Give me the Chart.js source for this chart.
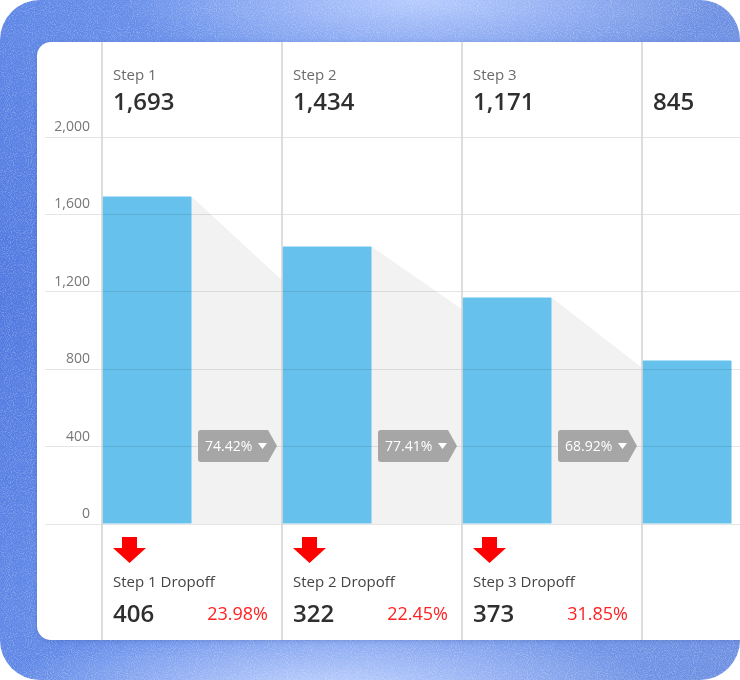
<!DOCTYPE html>
<html><head><meta charset="utf-8">
<script src="https://cdn.jsdelivr.net/npm/chart.js@4.4.1/dist/chart.umd.min.js"></script>
<style>
html,body{margin:0;padding:0;width:740px;height:680px;overflow:hidden;background:#fff;}
#bg{position:absolute;left:0;top:0;width:740px;height:680px;border-radius:40px;overflow:hidden;
background:
 radial-gradient(ellipse 300px 70px at 420px 0px, rgba(185,205,255,0.95), rgba(185,205,255,0)),
 radial-gradient(ellipse 330px 70px at 330px 690px, rgba(195,212,255,0.95), rgba(195,212,255,0)),
 radial-gradient(ellipse 200px 300px at 0px 300px, rgba(70,110,220,0.6), rgba(70,110,220,0)),
 linear-gradient(90deg,#5d86e6 0%,#7398ec 50%,#6d8fe2 100%);}
#noise{position:absolute;left:0;top:0;width:740px;height:680px;opacity:0.45;
background-image:url("data:image/svg+xml;utf8,<svg xmlns='http://www.w3.org/2000/svg' width='240' height='240'><filter id='n'><feTurbulence type='fractalNoise' baseFrequency='0.95' numOctaves='2' stitchTiles='stitch'/><feColorMatrix values='0 0 0 0 1  0 0 0 0 1  0 0 0 0 1  0 0 0 1.6 -0.7'/></filter><rect width='100%' height='100%' filter='url(%23n)'/></svg>");}
#card{position:absolute;left:37px;top:42px;width:800px;height:598px;background:#fff;border-radius:14px;box-shadow:0 1px 4px rgba(30,50,120,0.2);overflow:hidden;}
canvas{display:block}
</style></head>
<body>
<div id="bg"><div id="noise"></div></div>
<div id="card"><canvas id="c" width="800" height="598"></canvas></div>
<script>
const categories = ['Step 1','Step 2','Step 3','Step 4'];
const headerLabels = ['Step 1','Step 2','Step 3',''];
const stepValues = [1693,1434,1171,845];
const conversionPct = [74.42,77.41,68.92];
const dropoffLabels = ['Step 1 Dropoff','Step 2 Dropoff','Step 3 Dropoff'];
const dropoffCounts = [406,322,373];
const dropoffPct = [23.98,22.45,31.85];
const yMin = 0, yMax = 2000, yStep = 400;

const FONT = '"Open Sans", "Noto Sans", sans-serif';
const fmt = v => v.toLocaleString('en-US');

const funnelPlugin = {
  id: 'funnel',
  beforeDatasetsDraw(chart) {
    const ctx = chart.ctx, ys = chart.scales.y, xs = chart.scales.x;
    const meta = chart.getDatasetMeta(0);
    const colW = xs.getPixelForValue(1) - xs.getPixelForValue(0);
    ctx.save();
    ctx.fillStyle = '#f2f2f2';
    conversionPct.forEach((p, i) => {
      const bar = meta.data[i];
      const x1 = bar.x + bar.width / 2;
      const x2 = xs.getPixelForValue(i) + colW / 2;
      const y1 = ys.getPixelForValue(stepValues[i]);
      const y2 = ys.getPixelForValue(stepValues[i] * p / 100);
      const y0 = ys.getPixelForValue(0);
      ctx.beginPath();
      ctx.moveTo(x1, y1); ctx.lineTo(x2, y2); ctx.lineTo(x2, y0); ctx.lineTo(x1, y0);
      ctx.closePath(); ctx.fill();
    });
    ctx.restore();
  },
  afterDraw(chart) {
    const ctx = chart.ctx, ys = chart.scales.y, xs = chart.scales.x;
    const colW = xs.getPixelForValue(1) - xs.getPixelForValue(0);
    const H = chart.height;
    const area = chart.chartArea;
    ctx.save();
    // column separators
    ctx.strokeStyle = '#d2d2d2';
    ctx.lineWidth = 1.5;
    for (let i = 0; i <= categories.length; i++) {
      const x = xs.getPixelForValue(0) - colW / 2 + i * colW;
      ctx.beginPath(); ctx.moveTo(x, 0); ctx.lineTo(x, H); ctx.stroke();
    }
    // headers
    categories.forEach((c, i) => {
      const left = xs.getPixelForValue(i) - colW / 2;
      ctx.textBaseline = 'middle';
      ctx.textAlign = 'left';
      if (headerLabels[i]) {
        ctx.fillStyle = '#6b6b6b';
        ctx.font = '15px ' + FONT;
        ctx.fillText(headerLabels[i], left + 11, 34);
      }
      ctx.fillStyle = '#2f2f2f';
      ctx.font = '600 24px ' + FONT;
      ctx.fillText(fmt(stepValues[i]), left + 11, 61);
    });
    // conversion badges
    const by = area.bottom - 78;
    conversionPct.forEach((p, i) => {
      const left = xs.getPixelForValue(i) - colW / 2;
      const bx = left + 96, bw = 70, bh = 32, tip = 9, r = 3;
      const top = by - bh / 2;
      ctx.fillStyle = '#a6a6a6';
      ctx.beginPath();
      ctx.moveTo(bx + r, top);
      ctx.lineTo(bx + bw, top);
      ctx.lineTo(bx + bw + tip, by);
      ctx.lineTo(bx + bw, top + bh);
      ctx.lineTo(bx + r, top + bh);
      ctx.quadraticCurveTo(bx, top + bh, bx, top + bh - r);
      ctx.lineTo(bx, top + r);
      ctx.quadraticCurveTo(bx, top, bx + r, top);
      ctx.closePath(); ctx.fill();
      ctx.fillStyle = '#ffffff';
      ctx.font = '14px ' + FONT;
      ctx.textAlign = 'left'; ctx.textBaseline = 'middle';
      ctx.fillText(p.toFixed(2) + '%', bx + 7, by + 1);
      ctx.beginPath();
      ctx.moveTo(bx + 60, by - 3); ctx.lineTo(bx + 69, by - 3); ctx.lineTo(bx + 64.5, by + 3);
      ctx.closePath(); ctx.fill();
    });
    // dropoff section
    dropoffLabels.forEach((lab, i) => {
      const left = xs.getPixelForValue(i) - colW / 2;
      const ax = left + 11, ay = area.bottom + 13;
      ctx.fillStyle = '#ff0000';
      ctx.beginPath();
      ctx.moveTo(ax + 9, ay); ctx.lineTo(ax + 24, ay); ctx.lineTo(ax + 24, ay + 11);
      ctx.lineTo(ax + 33, ay + 11); ctx.lineTo(ax + 16.5, ay + 26);
      ctx.lineTo(ax, ay + 11); ctx.lineTo(ax + 9, ay + 11);
      ctx.closePath(); ctx.fill();
      ctx.textBaseline = 'middle'; ctx.textAlign = 'left';
      ctx.fillStyle = '#444444';
      ctx.font = '15px ' + FONT;
      ctx.fillText(lab, left + 11, area.bottom + 59);
      ctx.fillStyle = '#2f2f2f';
      ctx.font = '600 24px ' + FONT;
      ctx.fillText(fmt(dropoffCounts[i]), left + 11, area.bottom + 91);
      ctx.fillStyle = '#ff2222';
      ctx.font = '18px ' + FONT;
      ctx.textAlign = 'right';
      ctx.fillText(dropoffPct[i].toFixed(2) + '%', left + 166, area.bottom + 91);
    });
    ctx.restore();
  }
};

new Chart(document.getElementById('c'), {
  type: 'bar',
  data: {
    labels: categories,
    datasets: [
      { data: stepValues, backgroundColor: '#66c2ec', categoryPercentage: 1, barPercentage: 0.99, borderRadius: 1 },
      { data: categories.map(() => null), backgroundColor: 'rgba(0,0,0,0)', categoryPercentage: 1, barPercentage: 0.99 }
    ]
  },
  options: {
    responsive: false,
    animation: false,
    layout: { padding: { top: 95, bottom: 116, left: 0, right: 15 } },
    plugins: { legend: { display: false }, tooltip: { enabled: false } },
    scales: {
      x: { display: false },
      y: {
        min: yMin, max: yMax,
        afterFit(scale) { scale.width = 65; },
        border: { display: false },
        grid: { color: 'rgba(0,0,0,0.1)', lineWidth: 1, drawTicks: true, tickLength: 57, z: 1 },
        ticks: {
          stepSize: yStep, padding: -45, labelOffset: -10,
          color: '#777777', font: { size: 14, family: FONT }
        }
      }
    }
  },
  plugins: [funnelPlugin]
});
</script>
</body></html>
